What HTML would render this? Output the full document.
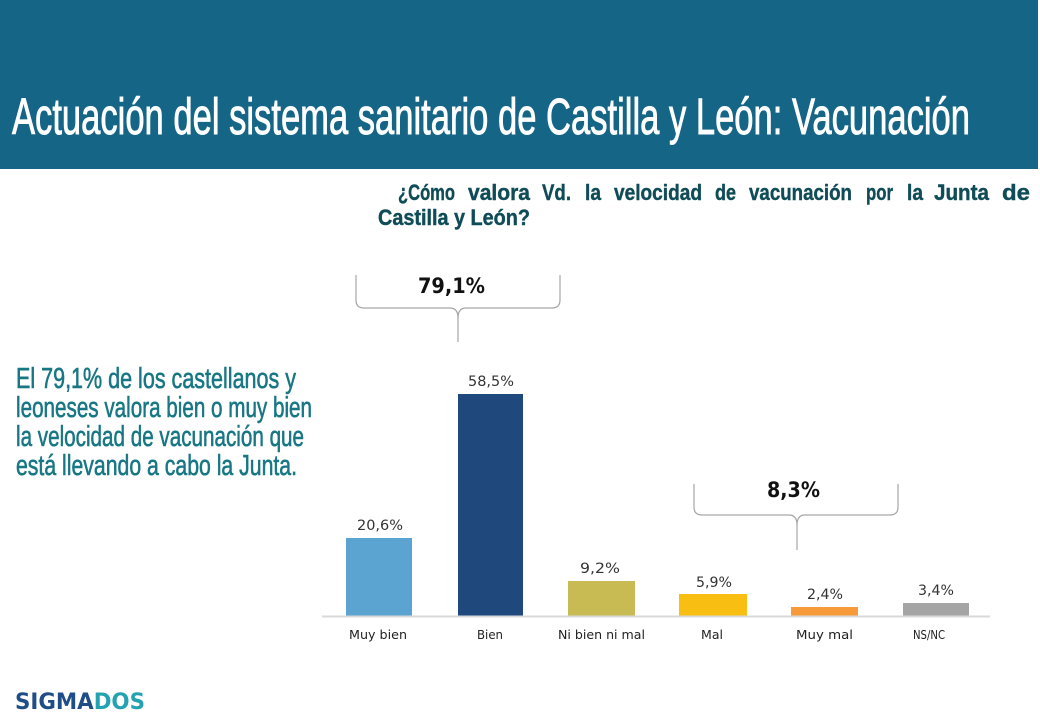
<!DOCTYPE html>
<html>
<head>
<meta charset="utf-8">
<style>
  html,body{margin:0;padding:0;background:#fff;}
  svg{display:block;}
  .t{font-family:"Liberation Sans Narrow","Liberation Sans",sans-serif;}
  .d{font-family:"DejaVu Sans","Liberation Sans",sans-serif;}
</style>
</head>
<body>
<svg width="1040" height="720" viewBox="0 0 1040 720" xmlns="http://www.w3.org/2000/svg">
  <rect x="0" y="0" width="1040" height="720" fill="#ffffff"/>
  <!-- header band -->
  <rect x="0" y="0" width="1038" height="169" fill="#156587"/>
  <text class="t" x="12" y="134" font-size="51" fill="#ffffff" stroke="#ffffff" stroke-width="0.9" textLength="958" lengthAdjust="spacingAndGlyphs">Actuación del sistema sanitario de Castilla y León: Vacunación</text>

  <!-- question -->
  <g class="t" font-size="22" font-weight="bold" fill="#0F4C57" stroke="#0F4C57" stroke-width="0.4">
    <text x="398" y="200" textLength="57" lengthAdjust="spacingAndGlyphs">¿Cómo</text>
    <text x="468" y="200" textLength="62" lengthAdjust="spacingAndGlyphs">valora</text>
    <text x="542" y="200" textLength="29" lengthAdjust="spacingAndGlyphs">Vd.</text>
    <text x="585" y="200" textLength="16" lengthAdjust="spacingAndGlyphs">la</text>
    <text x="614" y="200" textLength="88" lengthAdjust="spacingAndGlyphs">velocidad</text>
    <text x="715" y="200" textLength="21" lengthAdjust="spacingAndGlyphs">de</text>
    <text x="749" y="200" textLength="103" lengthAdjust="spacingAndGlyphs">vacunación</text>
    <text x="866" y="200" textLength="27" lengthAdjust="spacingAndGlyphs">por</text>
    <text x="907" y="200" textLength="16" lengthAdjust="spacingAndGlyphs">la</text>
    <text x="934" y="200" textLength="55" lengthAdjust="spacingAndGlyphs">Junta</text>
    <text x="1002" y="200" textLength="28" lengthAdjust="spacingAndGlyphs">de</text>
    <text x="378" y="225" textLength="152" lengthAdjust="spacingAndGlyphs">Castilla y León?</text>
  </g>

  <!-- left text -->
  <g class="t" font-size="29" fill="#187784" stroke="#187784" stroke-width="0.6">
    <text x="16" y="388" textLength="280" lengthAdjust="spacingAndGlyphs">El 79,1% de los castellanos y</text>
    <text x="16" y="417" textLength="296" lengthAdjust="spacingAndGlyphs">leoneses valora bien o muy bien</text>
    <text x="16" y="446" textLength="288" lengthAdjust="spacingAndGlyphs">la velocidad de vacunación que</text>
    <text x="16" y="475" textLength="281" lengthAdjust="spacingAndGlyphs">está llevando a cabo la Junta.</text>
  </g>

  <!-- brackets -->
  <g fill="none" stroke="#a6a6a6" stroke-width="1.2">
    <path d="M356,275 L356,300 Q356,308 364,308 L450,308 Q458,308 458,318 L458,342"/>
    <path d="M560,275 L560,300 Q560,308 552,308 L466,308 Q458,308 458,318"/>
    <path d="M694,484 L694,507 Q694,515 702,515 L789,515 Q797,515 797,525 L797,550"/>
    <path d="M898,484 L898,507 Q898,515 890,515 L805,515 Q797,515 797,525"/>
  </g>
  <text class="d" x="418" y="293" font-size="21" font-weight="bold" fill="#111" textLength="67" lengthAdjust="spacingAndGlyphs">79,1%</text>
  <text class="d" x="767" y="497" font-size="21" font-weight="bold" fill="#111" textLength="53" lengthAdjust="spacingAndGlyphs">8,3%</text>

  <!-- bars -->
  <rect x="346" y="538" width="66" height="78" fill="#5BA3D0"/>
  <rect x="458" y="394" width="65" height="222" fill="#1F497D"/>
  <rect x="568" y="581" width="67" height="35" fill="#C8BB53"/>
  <rect x="679" y="594" width="68" height="22" fill="#F9BE12"/>
  <rect x="791" y="607" width="67" height="9" fill="#F79A3A"/>
  <rect x="903" y="603" width="66" height="13" fill="#A5A5A5"/>

  <!-- axis -->
  <line x1="322" y1="616.5" x2="990" y2="616.5" stroke="#d9d9d9" stroke-width="2"/>

  <!-- value labels -->
  <g class="d" font-size="14" fill="#333">
    <text x="357" y="530" textLength="46" lengthAdjust="spacingAndGlyphs">20,6%</text>
    <text x="468" y="386" textLength="46" lengthAdjust="spacingAndGlyphs">58,5%</text>
    <text x="580" y="573" textLength="40" lengthAdjust="spacingAndGlyphs">9,2%</text>
    <text x="696" y="587" textLength="36" lengthAdjust="spacingAndGlyphs">5,9%</text>
    <text x="807" y="599" textLength="36" lengthAdjust="spacingAndGlyphs">2,4%</text>
    <text x="918" y="595" textLength="36" lengthAdjust="spacingAndGlyphs">3,4%</text>
  </g>

  <!-- category labels -->
  <g class="d" font-size="12" fill="#222">
    <text x="349" y="639" textLength="58" lengthAdjust="spacingAndGlyphs">Muy bien</text>
    <text x="477" y="639" textLength="26" lengthAdjust="spacingAndGlyphs">Bien</text>
    <text x="558" y="639" textLength="87" lengthAdjust="spacingAndGlyphs">Ni bien ni mal</text>
    <text x="701" y="639" textLength="22" lengthAdjust="spacingAndGlyphs">Mal</text>
    <text x="796" y="639" textLength="57" lengthAdjust="spacingAndGlyphs">Muy mal</text>
    <text x="913" y="639" textLength="32" lengthAdjust="spacingAndGlyphs">NS/NC</text>
  </g>

  <!-- logo -->
  <text class="d" x="15" y="709" font-size="22" font-weight="bold" textLength="130" lengthAdjust="spacingAndGlyphs"><tspan fill="#1F4E87">SIGMA</tspan><tspan fill="#23A3B2">DOS</tspan></text>
</svg>
</body>
</html>
